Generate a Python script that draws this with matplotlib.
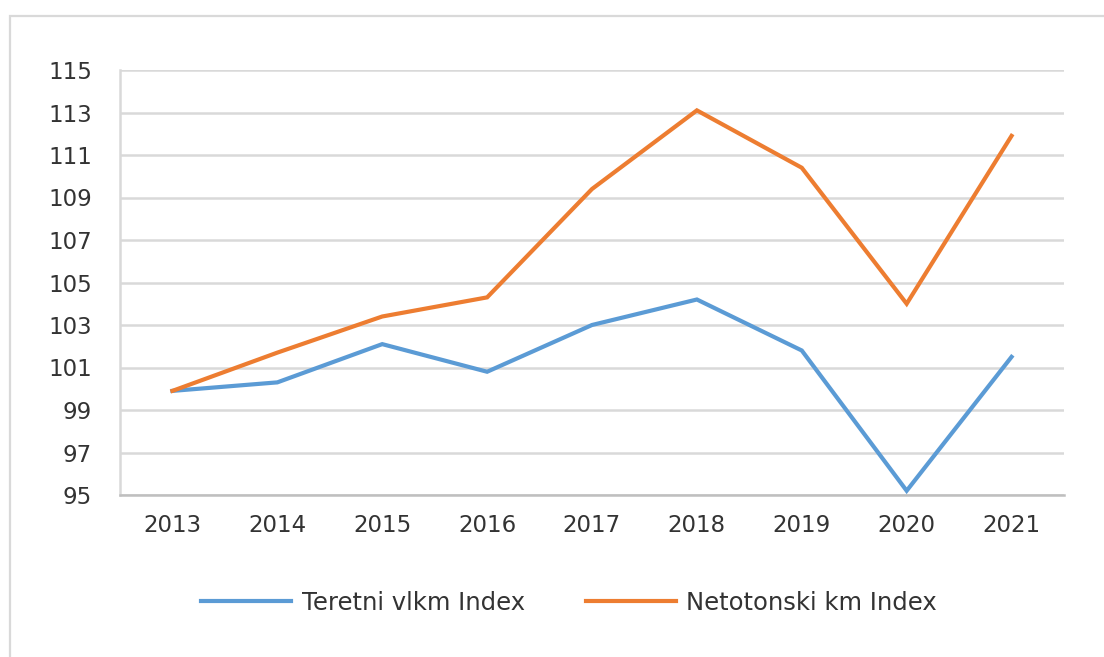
import matplotlib
matplotlib.use("Agg")
from matplotlib import pyplot as plt
from matplotlib.patches import Rectangle

### data ###

years = ["2013", "2014", "2015", "2016", "2017", "2018", "2019", "2020", "2021"]
teretni_vlkm = [99.9, 100.3, 102.1, 100.8, 103.0, 104.2, 101.8, 95.2, 101.5]
netotonski_km = [99.9, 101.7, 103.4, 104.3, 109.4, 113.1, 110.4, 104.0, 111.9]
y_ticks = list(range(95, 116, 2))

### plot ###

plt.rcParams['font.family'] = ['DejaVu Sans']

W, H = 1104, 657
fig = plt.figure(figsize=(W / 100, H / 100), dpi=100)
ax = fig.add_axes([120 / W, 1 - 495 / H, (1064 - 120) / W, (495 - 70) / H])

# outer frame of the chart area
fig.patches.append(Rectangle((10 / W, -0.1), 1.2, 0.1 + 1 - 16 / H,
                             transform=fig.transFigure, fill=False,
                             edgecolor='#d9d9d9', linewidth=1.6))

x = range(len(years))
ax.plot(x, teretni_vlkm, color='#5b9bd5', linewidth=3.0, label='Teretni vlkm Index',
        solid_joinstyle='miter', zorder=3)
ax.plot(x, netotonski_km, color='#ed7d31', linewidth=3.0, label='Netotonski km Index',
        solid_joinstyle='miter', zorder=3)

ax.set_xlim(-0.5, len(years) - 0.5)
ax.set_ylim(95, 115)
ax.set_yticks(y_ticks)
ax.set_xticks(list(x))
ax.set_xticklabels(years)
ax.yaxis.grid(True, color='#d9d9d9', linewidth=1.8)
ax.set_axisbelow(True)

for side in ['top', 'right']:
    ax.spines[side].set_visible(False)
ax.spines['left'].set_color('#d9d9d9')
ax.spines['left'].set_linewidth(1.8)
ax.spines['bottom'].set_color('#bfbfbf')
ax.spines['bottom'].set_linewidth(1.8)

ax.tick_params(axis='both', length=0, labelsize=16.5, labelcolor='#333333')
ax.tick_params(axis='y', pad=20)
ax.tick_params(axis='x', pad=14)

lgd = fig.legend(loc='center', bbox_to_anchor=(569 / W, 1 - 603 / H), ncol=2,
                 frameon=False, fontsize=17.5, handlelength=3.7, handletextpad=0.45,
                 columnspacing=2.5)
for t in lgd.get_texts():
    t.set_color('#333333')

fig.savefig("out.png", dpi=100)
